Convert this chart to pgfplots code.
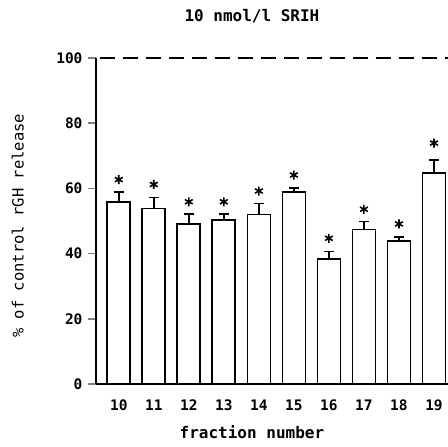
\documentclass[border=0pt]{standalone}
\usepackage{pgfplots}
\pgfplotsset{compat=1.18}
\usepackage{fontspec}
\setmainfont{DejaVu Sans Mono}
\begin{document}
\begin{tikzpicture}
\begin{axis}[
  name=ax,
  scale only axis,
  width=352pt, height=326pt,
  xmin=9.35, xmax=19.4,
  ymin=0, ymax=100,
  axis x line=bottom, axis y line=left,
  axis line style={-, line width=1.4pt},
  xtick={10,...,19},
  ytick={0,20,...,100},
  major x tick style={draw=none},
  major y tick style={line width=1.4pt},
  major tick length=8pt,
  tick align=outside,
  /pgf/number format/assume math mode=true,
  ticklabel style={font=\bfseries\fontsize{14.5}{16}\selectfont},
  xticklabel style={yshift=-4pt},
  yticklabel style={xshift=-2pt},
  title={10 nmol/l SRIH},
  title style={at={(0.443,1)}, anchor=south, yshift=25pt, font=\bfseries\fontsize{16}{18}\selectfont},
  xlabel={fraction number},
  xlabel style={at={(axis description cs:0.443,0)}, anchor=north, yshift=-38pt, font=\bfseries\fontsize{16}{18}\selectfont},
  ylabel={\% of control rGH release},
  ylabel style={at={(axis description cs:-0.222,0.485)}, anchor=center, font=\fontsize{15.5}{18}\selectfont},
  clip=false,
]
\addplot[black, line width=1.3pt, dash pattern=on 15pt off 8pt] coordinates {(9.45,100) (19.4,100)};
\addplot[ybar, bar width=23pt, fill=white, draw=black, line width=1.7pt,
  error bars/.cd, y dir=plus, y explicit,
  error bar style={line width=1.6pt},
  error mark options={rotate=90, mark size=5pt, line width=1.6pt}]
  coordinates {
  (10,55.9) +- (0,3.0)
  (11,53.8) +- (0,3.4)
  (12,49.0) +- (0,3.1)
  (13,50.2) +- (0,1.9)
  (14,52.0) +- (0,3.4)
  (15,59.0) +- (0,1.2)
  (16,38.3) +- (0,2.3)
  (17,47.4) +- (0,2.4)
  (18,43.9) +- (0,1.1)
  (19,64.8) +- (0,3.9)
  };
\addplot[only marks, mark=asterisk, mark size=4.5pt, line width=1.6pt, black] coordinates {
  (10,62.7) (11,61.2) (12,55.9) (13,55.9) (14,59.2)
  (15,64.1) (16,44.7) (17,53.6) (18,49.1) (19,73.9)
  };
\end{axis}
\pgfresetboundingbox
\path ([xshift=-96pt,yshift=-62pt]ax.south west) rectangle ([yshift=58pt]ax.north east);
\end{tikzpicture}
\end{document}
